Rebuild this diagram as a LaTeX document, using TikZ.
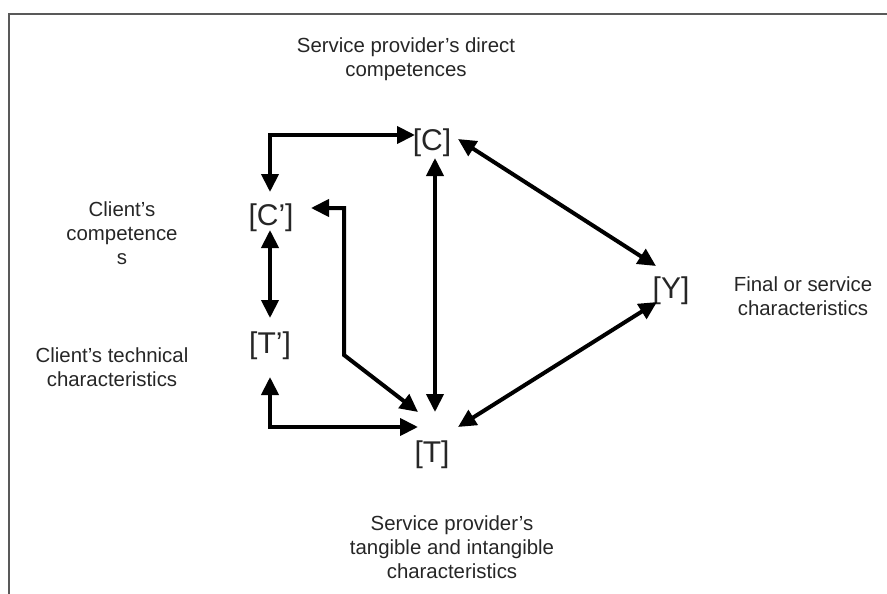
\documentclass[tikz,border=0pt]{standalone}
\usepackage{fontspec}
\setmainfont{Liberation Sans}
\usetikzlibrary{arrows.meta,calc}
\begin{document}
\begin{tikzpicture}[x=1pt,y=-1pt,
  lbl/.style={align=center,inner sep=0pt,text=black!85,font=\fontsize{20.4}{24}\selectfont},
  var/.style={inner sep=0pt,text=black!85,font=\fontsize{30}{32}\selectfont},
  link/.style={line width=4pt,{Triangle[length=18pt,width=17pt]}-{Triangle[length=18pt,width=17pt]}},
  frame/.style={draw=black!65,line width=2pt}]
\useasboundingbox (0,0) rectangle (887,594);
\draw[frame] (887,14) -- (9,14) -- (9,594);
% variables
\node[var] (C)  at (432,143) {[C]};
\node[var] (Cp) at (271,218) {[C’]};
\node[var] (Tp) at (270,346) {[T’]};
\node[var] (T)  at (432,455) {[T]};
\node[var] (Y)  at (671,291) {[Y]};
% labels
\node[lbl] (lC)  at (406,59)  {Service provider’s direct\\competences};
\node[lbl] (lCp) at (122,233) {Client’s\\competence\\s};
\node[lbl] (lTp) at (112,367) {Client’s technical\\characteristics};
\node[lbl] (lY)  at (803,296) {Final or service\\characteristics};
\node[lbl] (lT)  at (452,547) {Service provider’s\\tangible and intangible\\characteristics};
% connectors
\draw[link] ($(Cp)+(-1,-26)$) |- ($(C)+(-17,-8)$);
\draw[link] ($(Cp)+(-1,12)$) -- ($(Tp)+(0,-28)$);
\draw[link] ($(Tp)+(0,31)$) |- ($(T)+(-14,-28)$);
\draw[link] ($(Cp)+(40,-10)$) -| ($(T)+(-88,-100)$) -- ($(T)+(-14,-43)$);
\draw[link] ($(C)+(3,15)$) -- ($(T)+(3,-43)$);
\draw[link] ($(C)+(26,-4)$) -- ($(Y)+(-15,-25)$);
\draw[link] ($(T)+(26,-28)$) -- ($(Y)+(-14,11)$);
\end{tikzpicture}
\end{document}
